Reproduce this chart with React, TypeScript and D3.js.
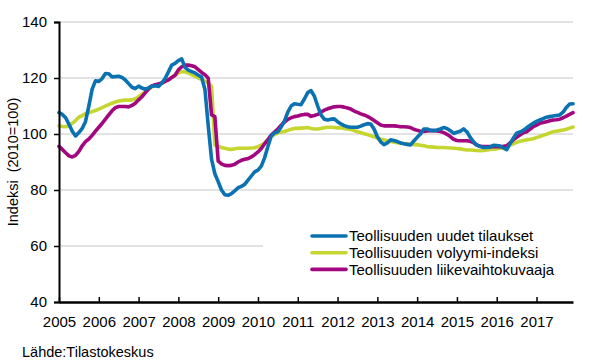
import React, { useEffect, useRef } from 'react';
import * as d3 from 'd3';

// Monthly index values, Jan 2005 .. Dec 2017 (2010=100)
const years = [2005, 2006, 2007, 2008, 2009, 2010, 2011, 2012, 2013, 2014, 2015, 2016, 2017];

const newOrders = [
  107.6, 107.0, 105.8, 103.5, 101.0, 99.3, 100.5, 102.0, 104.5, 110.0, 116.0, 119.0,
  118.8, 119.8, 121.6, 121.5, 120.4, 120.5, 120.6, 120.2, 119.3, 118.0, 116.7, 116.2,
  117.1, 116.4, 116.0, 116.5, 117.1, 117.2, 117.0, 118.2, 119.8, 122.2, 124.6, 125.2,
  126.2, 126.8, 123.8, 122.8, 122.3, 121.8, 121.0, 120.3, 116.0, 103.0, 91.0, 85.8,
  83.0, 80.0, 78.3, 78.1, 78.7, 79.7, 80.8, 81.3, 82.0, 83.5, 85.0, 86.5,
  87.1, 88.5, 91.5, 95.5, 99.3, 100.4, 100.8, 102.5, 104.7, 107.8, 110.0, 110.8,
  110.6, 110.5, 112.5, 114.8, 115.5, 113.5, 110.0, 106.8, 105.3, 105.0, 105.3, 105.4,
  104.4, 103.6, 103.0, 102.6, 102.4, 102.4, 102.4, 102.8, 103.3, 103.7, 103.6, 101.8,
  99.0, 97.2, 96.2, 96.8, 97.9, 97.7, 97.3, 96.8, 96.5, 96.3, 96.1, 97.5,
  98.8, 100.0, 101.8, 101.8, 101.3, 101.2, 101.4, 101.8, 102.3, 102.0, 101.2, 100.2,
  100.6, 101.0, 101.8, 100.8, 98.8, 97.2, 96.0, 95.5, 95.2, 95.2, 95.3, 96.0,
  95.9, 95.7, 95.0, 94.4, 96.5, 98.5, 100.3, 100.7, 101.3, 102.2, 103.0, 103.8,
  104.5, 105.0, 105.5, 106.0, 106.2, 106.4, 106.6, 106.8, 107.8, 109.5, 110.7, 110.8,
];

const volume = [
  102.9, 102.7, 102.6, 103.0, 103.8, 104.8, 106.0, 106.6, 107.3, 107.6, 108.0, 108.4,
  108.9, 109.4, 110.0, 110.5, 111.0, 111.4, 111.8, 112.0, 112.1, 112.1, 112.2, 112.6,
  113.3, 114.2, 115.1, 116.0, 116.8, 117.4, 117.8, 118.3, 118.8, 119.4, 120.2, 121.0,
  121.8, 122.3, 122.2, 121.8, 121.2, 120.6, 120.0, 119.5, 118.8, 118.3, 117.0, 96.0,
  95.5, 95.2, 94.9, 94.6, 94.5, 94.7, 94.9, 94.9, 94.9, 94.9, 95.0, 95.1,
  95.5, 96.0, 96.8, 98.0, 99.0, 99.8, 100.4, 100.7, 100.9, 101.3, 101.7, 102.0,
  102.0, 102.1, 102.2, 102.3, 102.0, 101.8, 101.8, 102.0, 102.2, 102.4, 102.4, 102.3,
  102.2, 102.2, 102.0, 101.8, 101.6, 101.2, 100.8, 100.5, 100.1, 99.8, 99.4, 99.0,
  98.6, 98.2, 97.9, 97.6, 97.3, 97.1, 96.9, 96.7, 96.6, 96.5, 96.4, 96.2,
  96.2, 96.0, 95.8, 95.5, 95.4, 95.3, 95.2, 95.2, 95.2, 95.1, 95.0, 94.9,
  94.8, 94.7, 94.5, 94.3, 94.3, 94.2, 94.1, 94.0, 94.1, 94.3, 94.5, 94.6,
  94.7, 94.9, 95.1, 95.5, 96.0, 96.5, 97.0, 97.4, 97.7, 97.9, 98.1, 98.3,
  98.7, 99.1, 99.5, 99.9, 100.4, 100.8, 101.0, 101.2, 101.4, 101.7, 102.1, 102.5,
];

const turnover = [
  95.6, 94.5, 93.3, 92.2, 91.8, 92.4, 93.8, 95.8, 97.3, 98.2, 99.5, 101.0,
  102.4, 103.8, 105.3, 106.8, 108.3, 109.4, 109.8, 109.8, 109.8, 109.7, 110.2, 111.0,
  112.2, 113.3, 114.7, 116.1, 117.2, 117.6, 117.9, 118.2, 118.8, 119.3, 120.2, 121.0,
  122.9, 124.0, 124.6, 124.6, 124.4, 124.0, 123.0, 122.0, 121.2, 119.9, 106.8, 106.2,
  90.3, 89.3, 88.8, 88.7, 88.8, 89.2, 90.0, 90.6, 91.0, 91.2, 91.8, 92.6,
  93.6, 94.8, 96.5, 98.0, 99.6, 100.7, 101.8, 103.1, 104.3, 105.2, 105.8, 106.2,
  106.4, 106.8, 107.0, 107.0, 106.3, 106.6, 107.0, 107.8, 108.5, 109.0, 109.4, 109.7,
  109.8, 109.8, 109.6, 109.3, 108.9, 108.2, 107.7, 107.2, 106.8, 106.3, 105.6, 104.8,
  104.0, 103.2, 102.9, 102.9, 102.9, 102.9, 102.8, 102.6, 102.6, 102.5, 102.3, 101.7,
  101.3, 101.0, 100.9, 101.1, 101.2, 101.2, 101.1, 100.9, 100.5, 99.9, 99.1, 98.1,
  97.7, 97.6, 97.6, 97.6, 97.4, 96.9, 96.1, 95.6, 95.5, 95.5, 95.5, 95.5,
  95.5, 95.5, 95.6, 95.8, 96.8, 97.9, 98.8, 99.6, 100.4, 100.8, 101.7, 102.6,
  103.2, 103.8, 104.1, 104.4, 104.7, 105.0, 105.1, 105.3, 105.8, 106.4, 107.0, 107.6,
];

const yTicks = [40, 60, 80, 100, 120, 140];

const series = [
  { name: 'Teollisuuden uudet tilaukset', values: newOrders, color: '#0a72b0' },
  { name: 'Teollisuuden volyymi-indeksi', values: volume, color: '#c5d630' },
  { name: 'Teollisuuden liikevaihtokuvaaja', values: turnover, color: '#a3077f' },
];

const FONT = '"Liberation Sans", Arial, sans-serif';

const App: React.FC = () => {
  const svgRef = useRef<SVGSVGElement>(null);

  useEffect(() => {
    if (!svgRef.current) return;
    const svg = d3.select(svgRef.current);
    svg.selectAll('*').remove();

    const width = 600;
    const height = 362;
    const margin = { top: 22, right: 27, bottom: 60, left: 59 };

    const x = d3.scaleLinear()
      .domain([0, newOrders.length - 1])
      .range([margin.left, width - margin.right]);

    const y = d3.scaleLinear()
      .domain([40, 140])
      .range([height - margin.bottom, margin.top]);

    svg.attr('width', width).attr('height', height);

    // Grid lines
    svg.append('g')
      .selectAll('line')
      .data(yTicks.filter(t => t > 40))
      .join('line')
      .attr('x1', x(0))
      .attr('x2', x(newOrders.length - 1))
      .attr('y1', d => y(d))
      .attr('y2', d => y(d))
      .attr('stroke', '#c8c8c8')
      .attr('stroke-width', 1);

    // Legend background hides part of the grid
    svg.append('rect')
      .attr('x', 263)
      .attr('y', 205)
      .attr('width', 320)
      .attr('height', 80)
      .attr('fill', '#fff');

    // Lines: volume, turnover, then orders on top
    const line = d3.line<number>()
      .x((_, i) => x(i))
      .y(d => y(d));

    [series[1], series[2], series[0]].forEach(s => {
      svg.append('path')
        .datum(s.values)
        .attr('fill', 'none')
        .attr('stroke', s.color)
        .attr('stroke-width', 3.6)
        .attr('stroke-linejoin', 'round')
        .attr('stroke-linecap', 'round')
        .attr('d', line);
    });

    // Y axis
    const yAxis = svg.append('g')
      .attr('transform', `translate(${margin.left},0)`)
      .call(d3.axisLeft(y).tickValues(yTicks).tickSize(5).tickPadding(7));
    yAxis.select('.domain').attr('stroke', '#000').attr('stroke-width', 2);
    yAxis.selectAll('.tick line').attr('stroke', '#000').attr('stroke-width', 1.5);
    yAxis.selectAll('.tick text')
      .attr('fill', '#000')
      .style('font-family', FONT)
      .style('font-size', '15px');

    // X axis with year ticks pointing inward
    const yearIdx = years.map((_, i) => i * 12);
    const xAxis = svg.append('g')
      .attr('transform', `translate(0,${height - margin.bottom})`)
      .call(d3.axisBottom(x)
        .tickValues(yearIdx)
        .tickSize(-5)
        .tickSizeOuter(0)
        .tickPadding(14)
        .tickFormat((d: any) => String(years[Math.round(d / 12)])));
    xAxis.select('.domain').attr('stroke', '#000').attr('stroke-width', 2.5);
    xAxis.selectAll('.tick line').attr('stroke', '#000').attr('stroke-width', 1.5);
    xAxis.selectAll('.tick text')
      .attr('fill', '#000')
      .style('font-family', FONT)
      .style('font-size', '15px');

    // Y axis title
    svg.append('text')
      .attr('transform', `translate(18,${(margin.top + height - margin.bottom) / 2}) rotate(-90)`)
      .attr('text-anchor', 'middle')
      .style('font-family', FONT)
      .style('font-size', '14.5px')
      .style('white-space', 'pre')
      .text('Indeksi  (2010=100)');

    // Legend
    const legend = svg.append('g');
    series.forEach((s, i) => {
      const ly = 236 + i * 16.7;
      legend.append('line')
        .attr('x1', 312)
        .attr('x2', 346)
        .attr('y1', ly)
        .attr('y2', ly)
        .attr('stroke', s.color)
        .attr('stroke-width', 3.6)
        .attr('stroke-linecap', 'round');
      legend.append('text')
        .attr('x', 349)
        .attr('y', ly)
        .attr('dy', '0.35em')
        .style('font-family', FONT)
        .style('font-size', '15px')
        .text(s.name);
    });

    // Source
    svg.append('text')
      .attr('x', 22)
      .attr('y', 352)
      .attr('dy', '0.35em')
      .style('font-family', FONT)
      .style('font-size', '14.5px')
      .text('Lähde:Tilastokeskus');
  }, []);

  return (
    <div style={{ position: 'absolute', left: 0, top: 0 }}>
      <svg ref={svgRef} style={{ display: 'block', background: '#fff' }} />
    </div>
  );
};

export default App;
